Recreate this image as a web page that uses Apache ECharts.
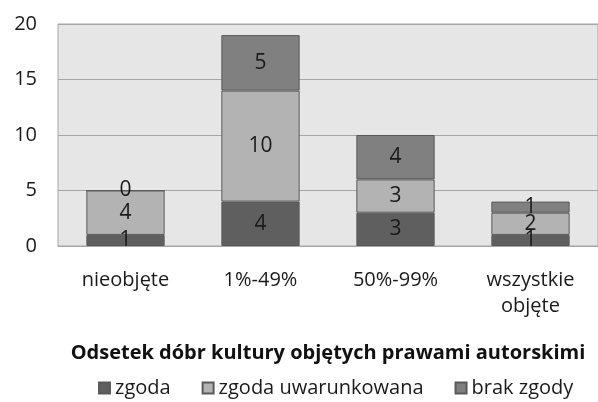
<!DOCTYPE html>
<html>
<head>
<meta charset="utf-8">
<script src="https://cdn.jsdelivr.net/npm/echarts@6/dist/echarts.min.js"></script>
<style>
html, body { margin: 0; padding: 0; background: #fff; }
#KChart { width: 598px; height: 402px; }
</style>
</head>
<body>
<div id="KChart"></div>
<script>
var categories = ['nieobjęte', '1%-49%', '50%-99%', 'wszystkie\nobjęte'];
var zgoda = [1, 4, 3, 1];
var zgodaUwarunkowana = [4, 10, 3, 2];
var brakZgody = [0, 5, 4, 1];
var yTicks = [0, 5, 10, 15, 20];

var font = '"Open Sans", sans-serif';

var makeSeries = function(name, data, color) {
	return {
		name: name,
		type: 'bar',
		stack: 'total',
		barWidth: '58%',
		data: data,
		itemStyle: {
			color: color,
			borderColor: '#5a5a5a',
			borderWidth: 1
		},
		label: {
			show: true,
			position: 'inside',
			color: '#1a1a1a',
			fontFamily: font,
			fontSize: 21
		}
	};
};

var getOption = function() {
	var option = {
		animation: false,
		textStyle: { fontFamily: font },
		grid: {
			left: 58,
			right: -5,
			top: 24,
			bottom: 156,
			show: true,
			backgroundColor: '#e6e6e6',
			borderColor: '#a6a6a6',
			borderWidth: 1
		},
		legend: {
			top: 373,
			left: 93,
			icon: 'rect',
			itemWidth: 11,
			itemHeight: 11,
			itemGap: 31,
			textStyle: {
				fontFamily: font,
				fontSize: 20,
				color: '#1a1a1a'
			},
			data: ['zgoda', 'zgoda uwarunkowana', 'brak zgody']
		},
		xAxis: [{
			type: 'category',
			data: categories,
			name: 'Odsetek dóbr kultury objętych prawami autorskimi',
			nameLocation: 'middle',
			nameGap: 97,
			nameTextStyle: {
				fontFamily: font,
				fontSize: 20,
				fontWeight: 'bold',
				color: '#111'
			},
			axisLine: { lineStyle: { color: '#a6a6a6' } },
			axisTick: { show: false },
			axisLabel: {
				margin: 21,
				fontFamily: font,
				fontSize: 20,
				color: '#1a1a1a',
				lineHeight: 26
			}
		}],
		yAxis: [{
			type: 'value',
			min: yTicks[0],
			max: yTicks[yTicks.length - 1],
			interval: 5,
			axisLine: { show: false },
			axisTick: { show: false },
			splitLine: { lineStyle: { color: '#a6a6a6' } },
			axisLabel: {
				margin: 21,
				fontFamily: font,
				fontSize: 20,
				color: '#1a1a1a'
			}
		}],
		series: [
			makeSeries('zgoda', zgoda, '#5f5f5f'),
			makeSeries('zgoda uwarunkowana', zgodaUwarunkowana, '#b3b3b3'),
			makeSeries('brak zgody', brakZgody, '#808080')
		]
	};
	return option;
};
var barChart = echarts.init(document.getElementById('KChart'));
barChart.setOption(getOption());
</script>
</body>
</html>
